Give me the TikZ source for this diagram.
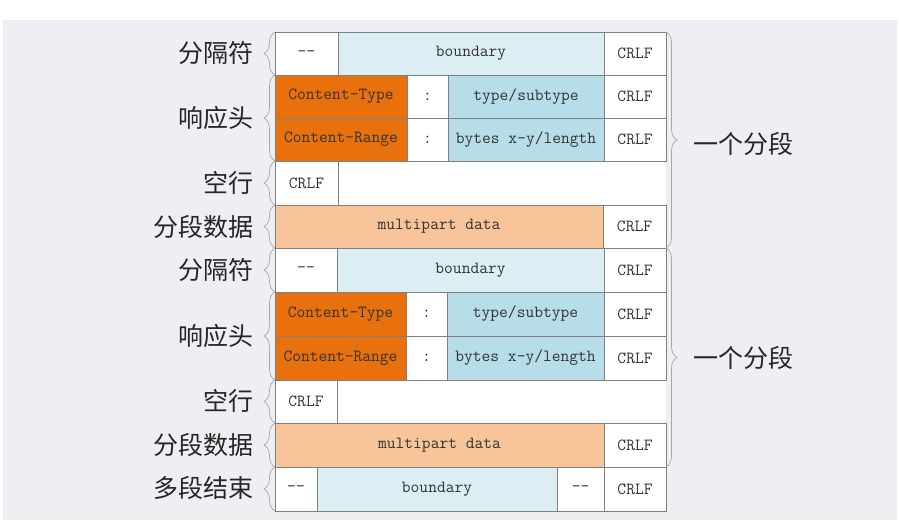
\documentclass[tikz,border=0pt]{standalone}
\usepackage{fontspec}
\newfontfamily\cjk{Noto Sans CJK SC}
\usetikzlibrary{decorations.pathreplacing}
\definecolor{pagegray}{HTML}{EFEEF3}
\definecolor{cellline}{HTML}{808080}
\definecolor{bracegray}{HTML}{A8A8A8}
\definecolor{headorange}{HTML}{E8700D}
\definecolor{valueblue}{HTML}{B6DDE8}
\definecolor{boundblue}{HTML}{DAEEF3}
\definecolor{datapeach}{HTML}{F8C49A}
\definecolor{textgray}{HTML}{333333}
\tikzset{
  cell/.style={draw=cellline,line width=0.8pt,inner sep=0pt,outer sep=0pt,anchor=north west,
    minimum height=43pt,font=\fontsize{17}{20}\selectfont\ttfamily,text=textgray},
  lbl/.style={anchor=east,font=\cjk\fontsize{25}{29}\selectfont,text=black!85},
  rlbl/.style={anchor=west,font=\cjk\fontsize{25}{29}\selectfont,text=black!85},
  lbrace/.style={decorate,decoration={brace,amplitude=11pt},draw=bracegray,line width=0.7pt},
}
\begin{document}
\begin{tikzpicture}[x=1pt,y=-1pt]
\useasboundingbox (0,0) rectangle (899,523);
\fill[pagegray] (3,20) rectangle (897,520);
\fill[white] (275,32) rectangle (666,511);
% first part
\node[cell,minimum width=63pt] (dashA) at (275,32) {--};
\node[cell,minimum width=266pt,fill=boundblue] (boundA) at (338,32) {boundary};
\node[cell,minimum width=62pt] (crlfA1) at (604,32) {CRLF};
\node[cell,minimum width=132pt,fill=headorange] (typeA) at (275,75) {Content-Type};
\node[cell,minimum width=41pt] (colonA1) at (407,75) {:};
\node[cell,minimum width=156pt,fill=valueblue] (typevalA) at (448,75) {type/subtype};
\node[cell,minimum width=62pt] (crlfA2) at (604,75) {CRLF};
\node[cell,minimum width=132pt,fill=headorange] (rangeA) at (275,118) {Content-Range};
\node[cell,minimum width=41pt] (colonA2) at (407,118) {:};
\node[cell,minimum width=156pt,fill=valueblue] (rangevalA) at (448,118) {bytes x-y/length};
\node[cell,minimum width=62pt] (crlfA3) at (604,118) {CRLF};
\node[cell,minimum width=63pt,minimum height=44pt] (emptyA) at (275,161) {CRLF};
\node[cell,minimum width=328pt,fill=datapeach] (dataA) at (275,205) {multipart data};
\node[cell,minimum width=63pt] (crlfA4) at (603,205) {CRLF};
% second part
\node[cell,minimum width=62pt,minimum height=44pt] (dashB) at (275,248) {--};
\node[cell,minimum width=267pt,minimum height=44pt,fill=boundblue] (boundB) at (337,248) {boundary};
\node[cell,minimum width=62pt,minimum height=44pt] (crlfB1) at (604,248) {CRLF};
\node[cell,minimum width=131pt,minimum height=44pt,fill=headorange] (typeB) at (275,292) {Content-Type};
\node[cell,minimum width=41pt,minimum height=44pt] (colonB1) at (406,292) {:};
\node[cell,minimum width=157pt,minimum height=44pt,fill=valueblue] (typevalB) at (447,292) {type/subtype};
\node[cell,minimum width=62pt,minimum height=44pt] (crlfB2) at (604,292) {CRLF};
\node[cell,minimum width=131pt,minimum height=44pt,fill=headorange] (rangeB) at (275,336) {Content-Range};
\node[cell,minimum width=41pt,minimum height=44pt] (colonB2) at (406,336) {:};
\node[cell,minimum width=157pt,minimum height=44pt,fill=valueblue] (rangevalB) at (447,336) {bytes x-y/length};
\node[cell,minimum width=62pt,minimum height=44pt] (crlfB3) at (604,336) {CRLF};
\node[cell,minimum width=62pt] (emptyB) at (275,380) {CRLF};
\node[cell,minimum width=329pt,minimum height=44pt,fill=datapeach] (dataB) at (275,423) {multipart data};
\node[cell,minimum width=62pt,minimum height=44pt] (crlfB4) at (604,423) {CRLF};
% closing boundary
\node[cell,minimum width=42pt,minimum height=44pt] (dashC1) at (275,467) {--};
\node[cell,minimum width=240pt,minimum height=44pt,fill=boundblue] (boundC) at (317,467) {boundary};
\node[cell,minimum width=47pt,minimum height=44pt] (dashC2) at (557,467) {--};
\node[cell,minimum width=62pt,minimum height=44pt] (crlfC) at (604,467) {CRLF};
% left braces and labels
\draw[lbrace] (dashA.south west) -- (dashA.north west);
\draw[lbrace] (rangeA.south west) -- (typeA.north west);
\draw[lbrace] (emptyA.south west) -- (emptyA.north west);
\draw[lbrace] (dataA.south west) -- (dataA.north west);
\draw[lbrace] (dashB.south west) -- (dashB.north west);
\draw[lbrace] (rangeB.south west) -- (typeB.north west);
\draw[lbrace] (emptyB.south west) -- (emptyB.north west);
\draw[lbrace] (dataB.south west) -- (dataB.north west);
\draw[lbrace] (dashC1.south west) -- (dashC1.north west);
\node[lbl] (sepA) at (257,53) {分隔符};
\node[lbl] (headA) at (257,118) {响应头};
\node[lbl] (blankA) at (257,183) {空行};
\node[lbl] (bodyA) at (257,227) {分段数据};
\node[lbl] (sepB) at (257,270) {分隔符};
\node[lbl] (headB) at (257,336) {响应头};
\node[lbl] (blankB) at (257,401) {空行};
\node[lbl] (bodyB) at (257,445) {分段数据};
\node[lbl] (endC) at (257,488) {多段结束};
% right braces
\draw[lbrace] (crlfA1.north east) -- (crlfA4.south east);
\draw[lbrace] (crlfB1.north east) -- (crlfB4.south east);
\node[rlbl] (partA) at (690,144) {一个分段};
\node[rlbl] (partB) at (690,358) {一个分段};
\end{tikzpicture}
\end{document}
